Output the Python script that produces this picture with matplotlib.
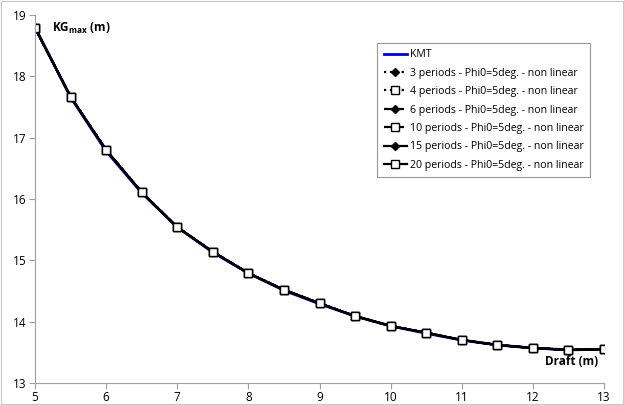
import matplotlib.pyplot as plt
from matplotlib.patches import Rectangle

plt.rcParams['font.family'] = ['Open Sans', 'DejaVu Sans']

draft = [5, 5.5, 6, 6.5, 7, 7.5, 8, 8.5, 9, 9.5, 10, 10.5, 11, 11.5, 12, 12.5, 13]
kmt = [18.80, 17.66, 16.78, 16.10, 15.54, 15.13, 14.79, 14.51, 14.29, 14.09, 13.93, 13.81, 13.70, 13.62, 13.57, 13.54, 13.55]
kg_max = [18.79, 17.67, 16.80, 16.11, 15.54, 15.14, 14.79, 14.52, 14.30, 14.09, 13.93, 13.82, 13.70, 13.62, 13.57, 13.54, 13.55]

periods = [3, 4, 6, 10, 15, 20]
linestyles = [':', ':', '--', '--', '-', '-']
markers = ['D', 's', 'D', 's', 'D', 's']

fig = plt.figure(figsize=(6.24, 4.05), dpi=100)
ax = fig.add_axes([35 / 624, 1 - 383 / 405, (604 - 35) / 624, (383 - 15) / 405])

ax.plot(draft, kmt, color='#0000cc', lw=2, label='KMT')
for n, ls, mk in zip(periods, linestyles, markers):
    face = 'black' if mk == 'D' else 'white'
    size = 3.8 if mk == 'D' else 5.6
    ax.plot(draft, kg_max, color='black', ls=ls, lw=1.6, marker=mk, ms=size,
            mfc=face, mec='black', mew=1,
            label=f'{n} periods - Phi0=5deg. - non linear')

ax.set_xlim(5, 13)
ax.set_ylim(13, 19)
ax.set_xticks(range(5, 14))
ax.set_yticks(range(13, 20))
for s in ['top', 'right']:
    ax.spines[s].set_visible(False)
for s in ['left', 'bottom']:
    ax.spines[s].set_color('#a0a0a0')
ax.tick_params(direction='out', length=4, color='#a0a0a0', labelsize=8.5, pad=2)

ax.text(0.03, 0.985, r'KG$_{\mathregular{max}}$ (m)', transform=ax.transAxes,
        fontsize=8.5, fontweight='bold', va='top', ha='left')
ax.text(0.99, 0.04, 'Draft (m)', transform=ax.transAxes,
        fontsize=8.5, fontweight='bold', va='bottom', ha='right')

leg = ax.legend(loc='upper right', bbox_to_anchor=(590 / 624, 1 - 43 / 405),
                bbox_transform=fig.transFigure, fontsize=7.6, frameon=True,
                fancybox=False, edgecolor='#808080', handlelength=2.2,
                handletextpad=0.3, labelspacing=0.7, borderpad=0.6,
                borderaxespad=0)
leg.get_frame().set_linewidth(0.8)

# light border round the whole chart
fig.patches.append(Rectangle((0.002, 0.002), 0.996, 0.996, transform=fig.transFigure,
                             fill=False, edgecolor='#c8c8c8', lw=0.8))

plt.savefig('out.png', dpi=100)
